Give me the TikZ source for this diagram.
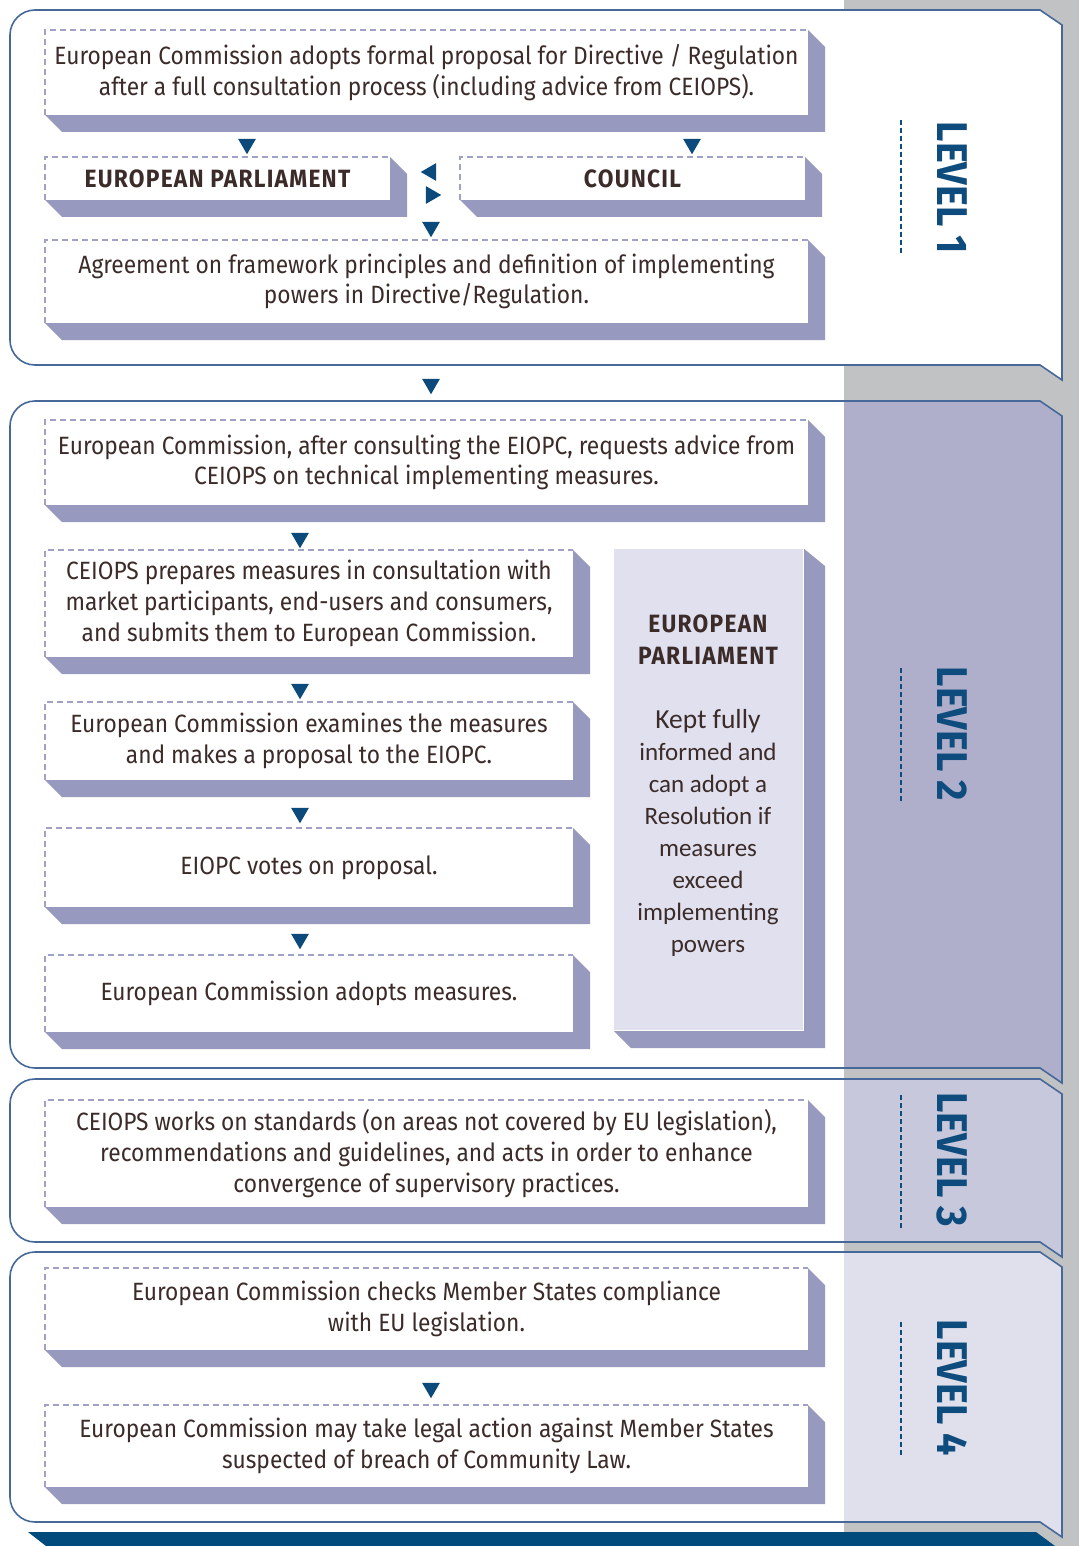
\documentclass[tikz,border=0pt]{standalone}
\usepackage{fontspec}
\setmainfont{Fira Sans}[FakeStretch=0.91]
\newfontfamily\sidefont{Carlito}
\newfontfamily\lvlfont{Fira Sans}[FakeStretch=0.92]
\usetikzlibrary{shapes.geometric}
\definecolor{bggray}{HTML}{C1C2C4}
\definecolor{strip2}{HTML}{AFAFCB}
\definecolor{strip3}{HTML}{C8C8DC}
\definecolor{strip4}{HTML}{E0E0EC}
\definecolor{shadowc}{HTML}{9899BE}
\definecolor{dashc}{HTML}{9FA1C6}
\definecolor{borderc}{HTML}{46699A}
\definecolor{arrowc}{HTML}{0B4A7A}
\definecolor{barc}{HTML}{004A7C}
\definecolor{txtc}{HTML}{3B2B29}
\definecolor{lvlc}{HTML}{0F4C7E}
\definecolor{sidec}{HTML}{E0E0EE}
\newcommand\hd[1]{{\bfseries\addfontfeature{LetterSpace=5}#1}}
\tikzset{
  boxtext/.style={inner sep=0pt, align=center, text=txtc, font=\fontsize{25}{30.8}\selectfont},
  dashb/.style={draw=dashc, line width=1.2pt, dash pattern=on 6pt off 4pt},
  pborder/.style={draw=borderc, line width=1.6pt, line join=miter},
  tri/.style={regular polygon, regular polygon sides=3, fill=arrowc, draw=none, inner sep=0pt, minimum size=20.5pt},
  lvl/.style={inner sep=0pt, text=lvlc, font=\lvlfont\bfseries\fontsize{43}{43}\selectfont, rotate=-90},
  lvldash/.style={draw=lvlc, line width=1.5pt, dash pattern=on 5pt off 3pt},
}
% box: name, x1, y1, x2, y2, text
\newcommand\shbox[6]{%
  \fill[shadowc] (#4,#3) -- (#4+17,#3+17) -- (#4+17,#5+17) -- (#2+17,#5+17) -- (#2,#5) -- (#4,#5) -- cycle;
  \fill[white] (#2,#3) rectangle (#4,#5);
  \draw[dashb] (#2,#5) -- (#2,#3) -- (#4,#3);
  \node[boxtext] (#1) at ({(#2+#4)/2},{(#3+#5)/2}) {#6};
}
% panel: top, bottom, strip colour
\newcommand\panel[3]{%
  \fill[white] (1040,#1) -- (1062,#1+15) -- (1062,#2+15) -- (1040,#2) -- (35,#2) .. controls (21.2,#2) and (10,#2-11.2) .. (10,#2-25) -- (10,#1+25) .. controls (10,#1+11.2) and (21.2,#1) .. (35,#1) -- cycle;
  \begin{scope}
    \clip (1040,#1) -- (1062,#1+15) -- (1062,#2+15) -- (1040,#2) -- (35,#2) .. controls (21.2,#2) and (10,#2-11.2) .. (10,#2-25) -- (10,#1+25) .. controls (10,#1+11.2) and (21.2,#1) .. (35,#1) -- cycle;
    \fill[#3] (844,#1-2) rectangle (1079,#2+20);
  \end{scope}
  \draw[pborder] (1040,#1) -- (1062,#1+15) -- (1062,#2+15) -- (1040,#2) -- (35,#2) .. controls (21.2,#2) and (10,#2-11.2) .. (10,#2-25) -- (10,#1+25) .. controls (10,#1+11.2) and (21.2,#1) .. (35,#1) -- cycle;
}
\newcommand\tdown[3]{\node[tri, shape border rotate=180] (#1) at (#2,#3) {};}
\begin{document}
\begin{tikzpicture}[x=1pt,y=-1pt]
\useasboundingbox (0,0) rectangle (1079,1546);
\fill[white] (0,0) rectangle (1079,1546);
\fill[bggray] (844,0) rectangle (1079,1546);

% panels
\panel{10}{365}{white}
\panel{401}{1068}{strip2}
\panel{1079}{1242}{strip3}
\panel{1252}{1522}{strip4}

% bottom bar
\fill[barc] (28,1532) -- (1036,1532) -- (1055,1546) -- (46,1546) -- cycle;

% LEVEL 1
\shbox{b1}{45}{30}{808}{115}{European Commission adopts formal proposal for Directive / Regulation\\after a full consultation process (including advice from CEIOPS).}
\shbox{ep}{45}{157}{390}{200}{\hd{EUROPEAN PARLIAMENT}}
\shbox{co}{460}{157}{805}{200}{\hd{COUNCIL}}
\shbox{ag}{45}{240}{808}{323}{Agreement on framework principles and definition of implementing\\powers in Directive/Regulation.}
\tdown{a1}{247}{144}
\tdown{a2}{692}{144}
\node[tri, shape border rotate=90] (al) at (431,172) {};
\node[tri, shape border rotate=-90] (ar) at (431,195) {};
\tdown{a3}{431}{227}
\tdown{a4}{431}{384}

% LEVEL 2
\shbox{c1}{45}{420}{808}{505}{European Commission, after consulting the EIOPC, requests advice from\\CEIOPS on technical implementing measures.}
\shbox{c2}{45}{550}{573}{657}{CEIOPS prepares measures in consultation with\\market participants, end-users and consumers,\\and submits them to European Commission.}
\shbox{c3}{45}{702}{573}{780}{European Commission examines the measures\\and makes a proposal to the EIOPC.}
\shbox{c4}{45}{828}{573}{907}{EIOPC votes on proposal.}
\shbox{c5}{45}{955}{573}{1032}{European Commission adopts measures.}
\tdown{a5}{300}{538}
\tdown{a6}{300}{689}
\tdown{a7}{300}{813}
\tdown{a8}{300}{939}
% side box
\fill[shadowc] (803,548) -- (825,566) -- (825,1048) -- (631,1048) -- (613,1030) -- (803,1030) -- cycle;
\fill[sidec] (613,548) rectangle (803,1030);
\draw[white, line width=1pt] (613,548) rectangle (803,1030);
\node[boxtext, font=\fontsize{25}{32}\selectfont] (side) at (708,786) {\hd{EUROPEAN}\\\hd{PARLIAMENT}\\[32pt]\sidefont\fontsize{27.5}{32}\selectfont Kept fully\\\sidefont informed and\\\sidefont can adopt a\\\sidefont Resolution if\\\sidefont measures\\\sidefont exceed\\\sidefont implementing\\\sidefont powers};

% LEVEL 3
\shbox{d1}{45}{1100}{808}{1207}{CEIOPS works on standards (on areas not covered by EU legislation),\\recommendations and guidelines, and acts in order to enhance\\convergence of supervisory practices.}

% LEVEL 4
\shbox{e1}{45}{1268}{808}{1350}{European Commission checks Member States compliance\\with EU legislation.}
\shbox{e2}{45}{1405}{808}{1487}{European Commission may take legal action against Member States\\suspected of breach of Community Law.}
\tdown{a9}{431}{1388}

% level labels
\node[lvl] (l1) at (952,188) {LEVEL 1};
\node[lvl] (l2) at (952,734) {LEVEL 2};
\node[lvl] (l3) at (952,1160) {LEVEL 3};
\node[lvl] (l4) at (952,1388) {LEVEL 4};
\coordinate (d1a) at (901,120); \coordinate (d1b) at (901,255);
\coordinate (d2a) at (901,668); \coordinate (d2b) at (901,802);
\coordinate (d3a) at (901,1095); \coordinate (d3b) at (901,1228);
\coordinate (d4a) at (901,1322); \coordinate (d4b) at (901,1456);
\draw[lvldash] (d1a) -- (d1b);
\draw[lvldash] (d2a) -- (d2b);
\draw[lvldash] (d3a) -- (d3b);
\draw[lvldash] (d4a) -- (d4b);
\end{tikzpicture}
\end{document}
